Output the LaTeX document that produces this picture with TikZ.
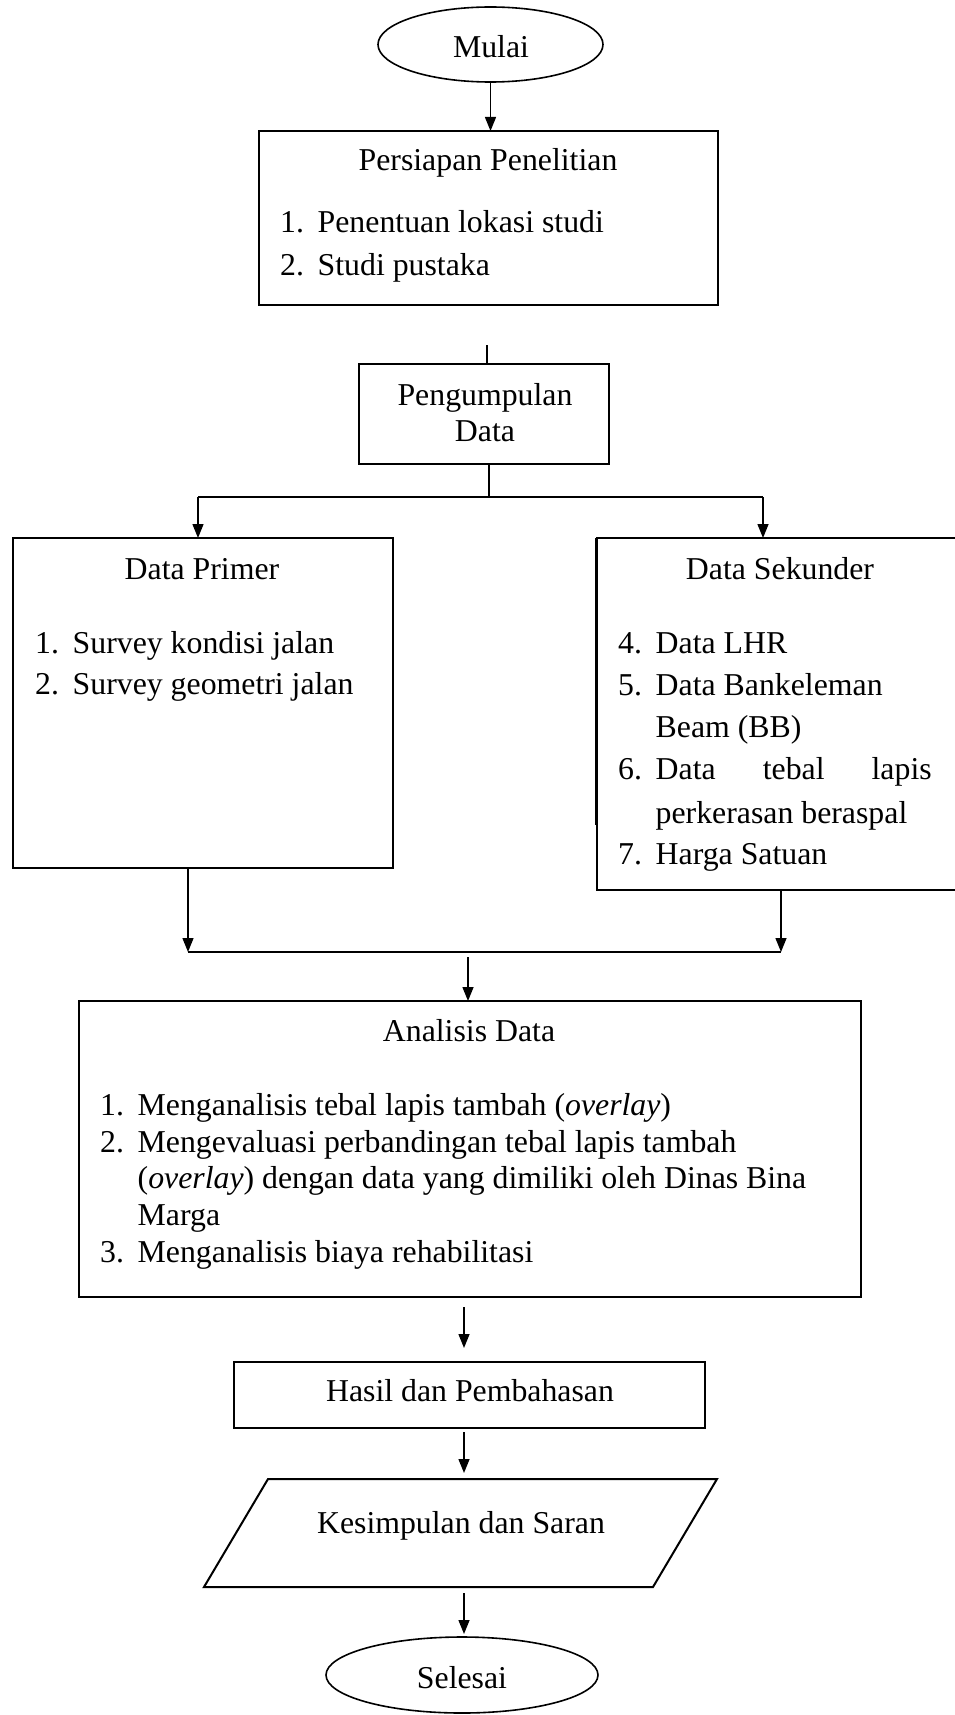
\documentclass[tikz,border=0pt]{standalone}
\usepackage{fontspec}
\setmainfont{Liberation Serif}
\usetikzlibrary{shapes.geometric,arrows.meta,calc}
\newcommand{\itemnum}[1]{\makebox[37.5pt][l]{#1}}
\tikzset{
  box/.style={draw, line width=2pt, rectangle, inner sep=0pt, outer sep=0pt},
  oval/.style={draw, line width=1.6pt, ellipse, inner sep=0pt, outer sep=0pt},
  hiddenbox/.style={rectangle, inner sep=0pt, outer sep=0pt},
  lbl/.style={inner sep=0pt, anchor=base},
  itm/.style={inner sep=0pt, anchor=base west},
  arr/.style={line width=1.4pt, -{Triangle[length=14pt,width=11pt]}},
  conn/.style={line width=1.4pt},
  bar/.style={line width=2.6pt},
}
\begin{document}
\begin{tikzpicture}[x=1pt,y=-1pt,font=\fontsize{31.8}{38}\selectfont]
\useasboundingbox (0,0) rectangle (955,1715);

% shapes
\node[oval, minimum width=225pt, minimum height=75pt] (mulai) at (490.5,44.5) {};
\node[box, minimum width=459pt, minimum height=174pt] (pers) at (488.5,218) {};
\node[box, minimum width=250pt, minimum height=100pt] (peng) at (484,414) {};
\node[box, minimum width=380pt, minimum height=330pt] (primer) at (203,703) {};
\node[box, minimum width=361pt, minimum height=352pt] (sek) at (777.5,714) {};
\draw[line width=1.6pt] (sek.north west) ++(-1.5,0) -- (595.5,825);
\node[box, minimum width=782pt, minimum height=296pt] (anal) at (470,1149) {};
\node[box, minimum width=471pt, minimum height=66pt] (hasil) at (469.5,1395) {};
\node[hiddenbox, minimum width=513pt, minimum height=108pt] (kes) at (460.5,1533) {};
\draw[line width=2pt] ($(kes.north west)+(64,0)$) -- (kes.north east)
  -- ($(kes.south east)-(64,0)$) -- (kes.south west) -- cycle;
\node[oval, minimum width=272pt, minimum height=76pt] (selesai) at (462,1675) {};

% texts
\node[lbl] (tmulai) at (491,58) {Mulai};
\node[lbl] (tpers) at (488,171) {Persiapan Penelitian};
\node[itm] (p1) at (280,233) {\itemnum{1.}Penentuan lokasi studi};
\node[itm] (p2) at (280,275) {\itemnum{2.}Studi pustaka};
\node[lbl] (tpeng1) at (485,405) {Pengumpulan};
\node[lbl] (tpeng2) at (485,441) {Data};
\node[lbl] (tprim) at (202,579) {Data Primer};
\node[itm] (d1) at (35,653) {\itemnum{1.}Survey kondisi jalan};
\node[itm] (d2) at (35,694) {\itemnum{2.}Survey geometri jalan};
\node[lbl] (tsek) at (780,579) {Data Sekunder};
\node[itm] (s4) at (618,653) {\itemnum{4.}Data LHR};
\node[itm] (s5) at (618,695) {\itemnum{5.}Data Bankeleman};
\node[itm] (s5b) at (655.5,737) {Beam (BB)};
\node[itm] (s6) at (618,779) {\itemnum{6.}\makebox[276pt][s]{Data tebal lapis}};
\node[itm] (s6b) at (655.5,823) {perkerasan beraspal};
\node[itm] (s7) at (618,864) {\itemnum{7.}Harga Satuan};
\node[lbl] (tanal) at (469,1041) {Analisis Data};
\node[itm] (a1t) at (100,1115) {\itemnum{1.}Menganalisis tebal lapis tambah (\textit{overlay})};
\node[itm] (a2t) at (100,1152) {\itemnum{2.}Mengevaluasi perbandingan tebal lapis tambah};
\node[itm] (a2b) at (137.5,1188) {(\textit{overlay}) dengan data yang dimiliki oleh Dinas Bina};
\node[itm] (a2c) at (137.5,1225) {Marga};
\node[itm] (a3t) at (100,1262) {\itemnum{3.}Menganalisis biaya rehabilitasi};
\node[lbl] (thasil) at (470,1401) {Hasil dan Pembahasan};
\node[lbl] (tkes) at (461,1533) {Kesimpulan dan Saran};
\node[lbl] (tsel) at (462,1688) {Selesai};

% connectors
\draw[arr] (mulai.south) -- (mulai.south |- pers.north);
\coordinate (stub) at (487,345);
\draw[conn] (stub) -- (stub |- peng.north);
\coordinate (brC) at (489,497);
\coordinate (brL) at (198,497);
\coordinate (brR) at (763,497);
\draw[line width=2pt] (brC |- peng.south) -- (brC);
\draw[bar] (brL) -- (brR);
\draw[arr] (brL) -- (brL |- primer.north);
\draw[arr] (brR) -- (brR |- sek.north);
\coordinate (mgL) at (188,952);
\coordinate (mgR) at (781,952);
\draw[arr] (mgL |- primer.south) -- (mgL);
\draw[arr] (mgR |- sek.south) -- (mgR);
\draw[bar] (mgL) -- (mgR);
\coordinate (g1) at (468,957);
\draw[arr] (g1) -- (g1 |- anal.north);
\coordinate (g2) at (464,1307);
\draw[arr, shorten >=14pt] (g2) -- (g2 |- hasil.north);
\coordinate (g3) at (464,1432);
\draw[arr, shorten >=6pt] (g3) -- (g3 |- kes.north);
\coordinate (g4) at (464,1593);
\draw[arr, shorten >=3pt] (g4) -- (g4 |- selesai.north);
\end{tikzpicture}
\end{document}
